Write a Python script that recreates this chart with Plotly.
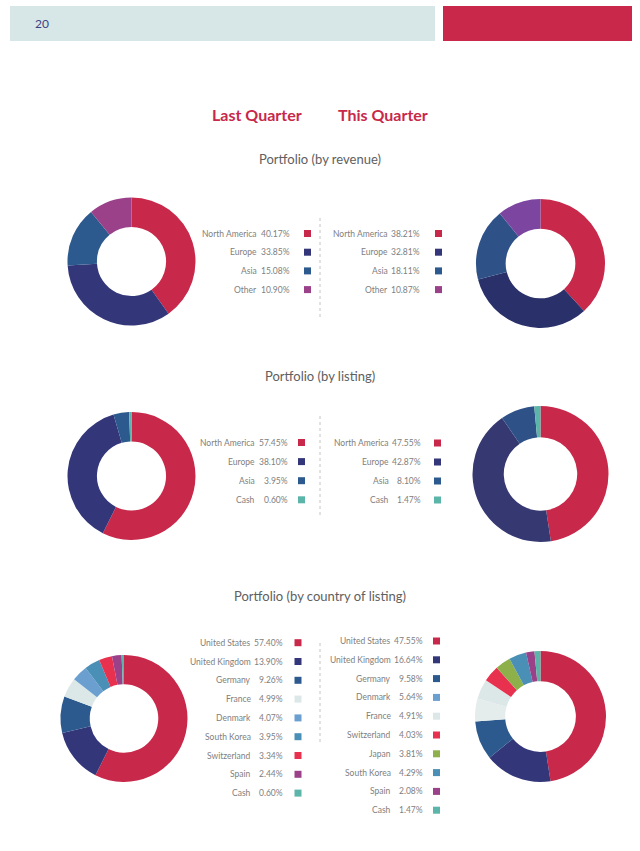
import plotly.graph_objects as go

W, H = 640, 851

# ---------------- data ----------------
rev_labels = ["North America", "Europe", "Asia", "Other"]
rev_last = [40.17, 33.85, 15.08, 10.90]
rev_this = [38.21, 32.81, 18.11, 10.87]

lst_labels = ["North America", "Europe", "Asia", "Cash"]
lst_last = [57.45, 38.10, 3.95, 0.60]
lst_this = [47.55, 42.87, 8.10, 1.47]

cty_last_labels = ["United States", "United Kingdom", "Germany", "France", "Denmark",
                   "South Korea", "Switzerland", "Spain", "Cash"]
cty_last = [57.40, 13.90, 9.26, 4.99, 4.07, 3.95, 3.34, 2.44, 0.60]

cty_this_labels = ["United States", "United Kingdom", "Germany", "Denmark", "France",
                   "Switzerland", "Japan", "South Korea", "Spain", "Cash"]
cty_this = [47.55, 16.64, 9.58, 5.64, 4.91, 4.03, 3.81, 4.29, 2.08, 1.47]

# ---------------- styles ----------------
RED = "#C8284A"
NAVY = "#33377A"
BLUE = "#2C5A8E"
PURP = "#9A4189"
TEAL = "#5BB5A8"
CMAP = {
    "North America": RED, "United States": RED,
    "Europe": NAVY, "United Kingdom": NAVY,
    "Asia": BLUE, "Germany": BLUE,
    "Other": PURP, "Spain": PURP,
    "Cash": TEAL, "France": "#DCE7E7", "Denmark": "#6A9FD0",
    "South Korea": "#4A8FB5", "Switzerland": "#E8304F", "Japan": "#8DB04A",
}
TXT = "#808080"
FONT = "Lato"
LS = 8.5


def px(x):
    return x / W


def py(y):
    return 1 - y / H


fig = go.Figure()


def add_pie(labels, values, cx, cy, r, colors=None):
    cols = colors or [CMAP[l] for l in labels]
    fig.add_trace(go.Pie(
        labels=labels, values=values, hole=0.54, sort=False,
        direction="clockwise", rotation=0, textinfo="none", hoverinfo="label+percent",
        marker=dict(colors=cols, line=dict(width=0)),
        domain=dict(x=[px(cx - r), px(cx + r)], y=[py(cy + r), py(cy - r)]),
    ))


add_pie(rev_labels, rev_last, 131.5, 261.5, 64)
add_pie(rev_labels, rev_this, 540.5, 263.5, 64.5,
        [RED, "#29306A", "#2E5288", "#7C45A0"])
add_pie(lst_labels, lst_last, 131.5, 476, 64)
add_pie(lst_labels, lst_this, 540.5, 474, 68, [RED, "#363872", "#2E5288", TEAL])
add_pie(cty_last_labels, cty_last, 124, 718.5, 63.5)
this_cols = [CMAP[l] for l in cty_this_labels]
this_cols[3] = "#E4ECEC"  # Denmark slice appears pale in the ring
add_pie(cty_this_labels, cty_this, 540.5, 716.5, 65.5, this_cols)

annotations = []
shapes = []


def text(x, y, s, size, color, anchor="center", bold=False):
    annotations.append(dict(
        x=px(x), y=py(y), xref="paper", yref="paper", text=s, showarrow=False,
        xanchor=anchor, yanchor="middle",
        font=dict(family=FONT, size=size, color=color, weight=700 if bold else 400)))


def legend(labels, values, y0, step, lab_r, pct_r, sq_x, sq=7):
    for i, (l, v) in enumerate(zip(labels, values)):
        y = y0 + i * step
        text(lab_r, y, l, LS, TXT, "right")
        text(pct_r, y, f"{v:.2f}%", LS, TXT, "right")
        shapes.append(dict(type="rect", xref="paper", yref="paper",
                           x0=px(sq_x), x1=px(sq_x + sq),
                           y0=py(y + sq / 2), y1=py(y - sq / 2),
                           fillcolor=CMAP[l], line=dict(width=0)))


# header
shapes.append(dict(type="rect", xref="paper", yref="paper", x0=px(10), x1=px(435),
                   y0=py(41), y1=py(6), fillcolor="#D7E6E6", line=dict(width=0)))
shapes.append(dict(type="rect", xref="paper", yref="paper", x0=px(443), x1=px(632),
                   y0=py(41), y1=py(6), fillcolor="#C9284A", line=dict(width=0)))
text(33, 23.5, "20", 12, "#3C4183", "left")

text(256.5, 115, "Last Quarter", 16, RED, bold=True)
text(383, 115, "This Quarter", 16, RED, bold=True)

text(320, 159, "Portfolio (by revenue)", 13, "#606060")
text(320, 376, "Portfolio (by listing)", 13, "#606060")
text(320, 596, "Portfolio (by country of listing)", 13, "#606060")

legend(rev_labels, rev_last, 233.5, 18.7, 258.5, 291.5, 304)
legend(rev_labels, rev_this, 233.5, 18.7, 390, 422, 435)
legend(lst_labels, lst_last, 442.5, 19.1, 256.5, 289.5, 298)
legend(lst_labels, lst_this, 443, 19, 391, 423, 434)
legend(cty_last_labels, cty_last, 642.7, 18.8, 253, 284.5, 294.5)
legend(cty_this_labels, cty_this, 641, 18.8, 393, 425, 433)

for y0, y1 in [(218, 317), (415, 515), (643, 742)]:
    shapes.append(dict(type="line", xref="paper", yref="paper", x0=px(320), x1=px(320),
                       y0=py(y1), y1=py(y0), line=dict(color="#c4c4c4", width=1, dash="dot")))

fig.update_layout(
    width=W, height=H, margin=dict(l=0, r=0, t=0, b=0),
    paper_bgcolor="white", plot_bgcolor="white", showlegend=False,
    annotations=annotations, shapes=shapes,
)

fig.write_html("out.html", config={"displayModeBar": False},
               post_script="document.body.style.margin='0';document.body.style.overflow='hidden';")
